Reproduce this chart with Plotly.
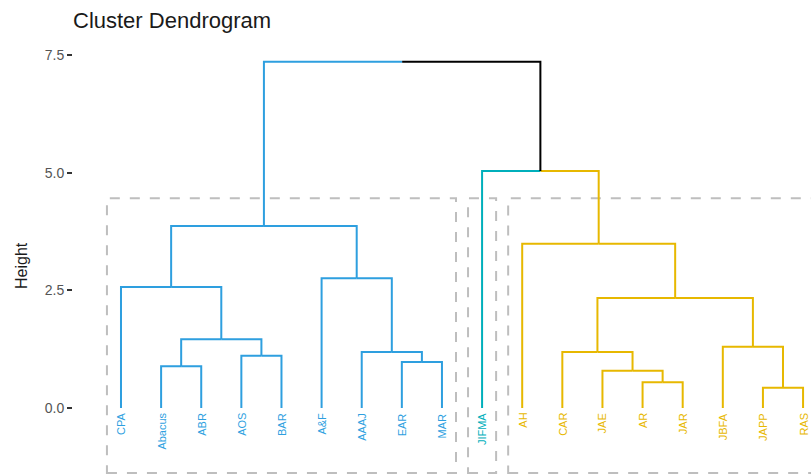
import plotly.graph_objects as go

# Leaf labels in dendrogram order
leaves = ["CPA", "Abacus", "ABR", "AOS", "BAR", "A&F", "AAAJ", "EAR", "MAR",
          "JIFMA", "AH", "CAR", "JAE", "AR", "JAR", "JBFA", "JAPP", "RAS"]
# Cluster membership of each leaf (k = 3)
leaf_cluster = [1, 1, 1, 1, 1, 1, 1, 1, 1, 2, 3, 3, 3, 3, 3, 3, 3, 3]

# hclust-style merge table: negative = leaf (1-based), positive = earlier merge row
merge_left = [-2, -4, 1, -1, -8, -7, -6, 4, -14, -13, -12, -17, -16, 11, -11, -10, 8]
merge_right = [-3, -5, 2, 3, -9, 5, 6, 7, -15, 9, 10, -18, 12, 13, 14, 15, 16]
merge_height = [0.89, 1.11, 1.46, 2.57, 0.98, 1.19, 2.76, 3.87,
                0.55, 0.79, 1.19, 0.43, 1.30, 2.34, 3.49, 5.04, 7.36]

y_ticks = [0.0, 2.5, 5.0, 7.5]
y_tick_text = ["0.0", "2.5", "5.0", "7.5"]

cluster_colors = {1: "#2E9FDF", 2: "#00AFBB", 3: "#E7B800"}
mixed_color = "#000000"

# --- positions, heights and colours of every node ---
node_x, node_h, node_col, node_set = [], [], [], []


def info(ref):
    if ref < 0:
        i = -ref - 1
        return i + 1, 0.0, cluster_colors[leaf_cluster[i]], {leaf_cluster[i]}
    return node_x[ref - 1], node_h[ref - 1], node_col[ref - 1], node_set[ref - 1]


segments = {}
for l, r, h in zip(merge_left, merge_right, merge_height):
    lx, lh, lc, ls = info(l)
    rx, rh, rc, rs = info(r)
    px = (lx + rx) / 2
    members = ls | rs
    col = cluster_colors[next(iter(members))] if len(members) == 1 else mixed_color
    node_x.append(px)
    node_h.append(h)
    node_col.append(col)
    node_set.append(members)
    for cx, ch, cc in ((lx, lh, lc), (rx, rh, rc)):
        xs, ys = segments.setdefault(cc, ([], []))
        xs += [cx, cx, px, None]
        ys += [ch, h, h, None]

fig = go.Figure()
for col, (xs, ys) in segments.items():
    fig.add_trace(go.Scatter(x=xs, y=ys, mode="lines", hoverinfo="skip",
                             line=dict(color=col, width=2), showlegend=False))

font_main = "Liberation Sans, Arial, sans-serif"

# leaf labels
for i, name in enumerate(leaves):
    fig.add_annotation(x=i + 1, y=0, xref="x", yref="y", text=name,
                       textangle=-90, showarrow=False, xanchor="center",
                       yanchor="top", yshift=-3,
                       font=dict(family=font_main, size=11,
                                 color=cluster_colors[leaf_cluster[i]]))

# dashed rectangles around each cluster
rect_top, rect_bottom = 4.46, -1.38
for k in sorted(set(leaf_cluster)):
    idx = [i + 1 for i, c in enumerate(leaf_cluster) if c == k]
    fig.add_shape(type="rect", xref="x", yref="y",
                  x0=min(idx) - 0.35, x1=max(idx) + 0.35,
                  y0=rect_bottom, y1=rect_top, layer="below",
                  line=dict(color="#BEBEBE", width=2, dash="10px,10px"))

fig.add_annotation(xref="paper", yref="paper", x=0, y=1.034, xshift=-2,
                   xanchor="left", yanchor="middle", showarrow=False,
                   text="Cluster Dendrogram",
                   font=dict(family=font_main, size=22, color="#1a1a1a"))
fig.add_annotation(xref="paper", yref="paper", x=(21 - 73) / 738, y=0.475,
                   xanchor="center", yanchor="middle", showarrow=False,
                   text="Height", textangle=-90,
                   font=dict(family=font_main, size=16, color="#1a1a1a"))

fig.update_layout(
    width=811, height=475,
    margin=dict(l=73, r=0, t=35, b=0),
    paper_bgcolor="white", plot_bgcolor="white",
    xaxis=dict(range=[-0.196, 18.198], showgrid=False, zeroline=False,
               showticklabels=False, ticks="", showline=False, fixedrange=True),
    yaxis=dict(range=[-1.424, 7.928], showgrid=False, zeroline=False,
               showline=False, tickvals=y_ticks, ticktext=y_tick_text,
               ticks="outside", ticklen=5, tickwidth=1.5, tickcolor="#333333",
               tickfont=dict(family=font_main, size=14, color="#555555"),
               fixedrange=True),
)

fig.write_html("out.html")
